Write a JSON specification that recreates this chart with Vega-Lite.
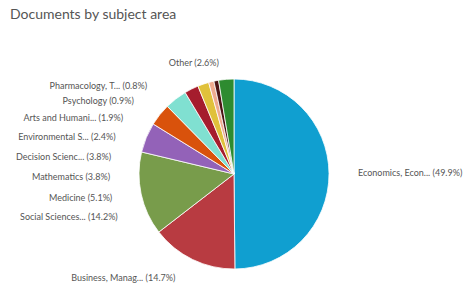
{
  "$schema": "https://vega.github.io/schema/vega-lite/v6.json",
  "width": 468,
  "height": 212,
  "autosize": "none",
  "padding": {"top": 68, "left": 0, "right": 0, "bottom": 7},
  "background": "white",
  "title": {"text": "Documents by subject area", "anchor": "start", "frame": "group", "dx": 10, "offset": 24, "font": "Lato", "fontSize": 14, "fontWeight": "normal", "color": "#555555"},
  "config": {"view": {"stroke": null}},
  "data": {"values": [
    {"subject": "Economics", "label": "Economics, Econ... (49.9%)", "pct": 49.9, "rank": 1},
    {"subject": "Business", "label": "Business, Manag... (14.7%)", "pct": 14.7, "rank": 2},
    {"subject": "Social Sciences", "label": "Social Sciences... (14.2%)", "pct": 14.2, "rank": 3},
    {"subject": "Medicine", "label": "Medicine (5.1%)", "pct": 5.1, "rank": 4},
    {"subject": "Mathematics", "label": "Mathematics (3.8%)", "pct": 3.8, "rank": 5},
    {"subject": "Decision Sciences", "label": "Decision Scienc... (3.8%)", "pct": 3.8, "rank": 6},
    {"subject": "Environmental Science", "label": "Environmental S... (2.4%)", "pct": 2.4, "rank": 7},
    {"subject": "Arts and Humanities", "label": "Arts and Humani... (1.9%)", "pct": 1.9, "rank": 8},
    {"subject": "Psychology", "label": "Psychology (0.9%)", "pct": 0.9, "rank": 9},
    {"subject": "Pharmacology", "label": "Pharmacology, T... (0.8%)", "pct": 0.8, "rank": 10},
    {"subject": "Other", "label": "Other (2.6%)", "pct": 2.6, "rank": 11}
  ]},
  "layer": [
    {
      "mark": {"type": "arc", "outerRadius": 95, "stroke": "#ffffff", "strokeWidth": 0.8},
      "encoding": {
        "theta": {"field": "pct", "type": "quantitative", "stack": true},
        "order": {"field": "rank", "type": "quantitative"},
        "color": {"field": "subject", "type": "nominal", "legend": null,
          "scale": {
            "domain": ["Economics", "Business", "Social Sciences", "Medicine", "Mathematics", "Decision Sciences", "Environmental Science", "Arts and Humanities", "Psychology", "Pharmacology", "Other"],
            "range": ["#109fd0", "#b83b41", "#789c4b", "#9362b8", "#d9520c", "#80e0d1", "#a51d2d", "#e0c13b", "#eeab8f", "#4c1414", "#2e8b30"]
          }}
      }
    },
    {
      "mark": {"type": "text", "radius": 124, "align": "left", "baseline": "middle", "font": "Lato", "fontSize": 9, "color": "#555555"},
      "encoding": {
        "theta": {"field": "pct", "type": "quantitative", "stack": true},
        "order": {"field": "rank", "type": "quantitative"},
        "detail": {"field": "subject", "type": "nominal"},
        "text": {"field": "label", "type": "nominal", "condition": {"test": "datum.subject != 'Economics'", "value": ""}}
      }
    },
    {
      "mark": {"type": "text", "radius": 116, "align": "right", "baseline": "middle", "dx": -8, "font": "Lato", "fontSize": 9, "color": "#555555"},
      "encoding": {
        "theta": {"field": "pct", "type": "quantitative", "stack": true},
        "order": {"field": "rank", "type": "quantitative"},
        "detail": {"field": "subject", "type": "nominal"},
        "text": {"field": "label", "type": "nominal", "condition": {"test": "datum.subject != 'Business'", "value": ""}}
      }
    },
    {
      "mark": {"type": "text", "radius": 111, "align": "right", "baseline": "middle", "dx": -6, "font": "Lato", "fontSize": 9, "color": "#555555"},
      "encoding": {
        "theta": {"field": "pct", "type": "quantitative", "stack": true},
        "order": {"field": "rank", "type": "quantitative"},
        "detail": {"field": "subject", "type": "nominal"},
        "text": {"field": "label", "type": "nominal", "condition": {"test": "datum.subject != 'Other'", "value": ""}}
      }
    },
    {
      "transform": [{"filter": {"field": "subject", "oneOf": ["Social Sciences", "Medicine", "Mathematics", "Decision Sciences", "Environmental Science", "Arts and Humanities", "Psychology", "Pharmacology"]}}],
      "mark": {"type": "text", "radius": 124, "align": "right", "baseline": "middle", "font": "Lato", "fontSize": 9, "color": "#555555"},
      "encoding": {
        "theta": {"field": "subject", "type": "ordinal",
          "scale": {"type": "point", "padding": 0, "domain": ["Social Sciences", "Medicine", "Mathematics", "Decision Sciences", "Environmental Science", "Arts and Humanities", "Psychology", "Pharmacology"], "range": [4.3563, 5.5065]}},
        "text": {"field": "label", "type": "nominal"}
      }
    }
  ],
  "resolve": {"scale": {"theta": "independent"}}
}
